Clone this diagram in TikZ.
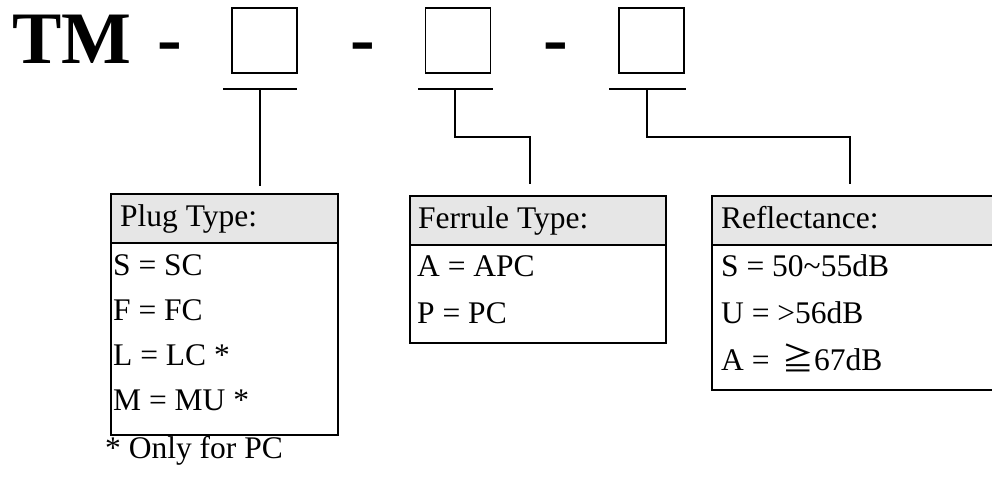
\documentclass[tikz,border=0pt]{standalone}
\usepackage{fontspec}
\setmainfont{Liberation Serif}
\newfontfamily\cjk{Noto Sans CJK JP}
\usetikzlibrary{calc}
\definecolor{headgray}{HTML}{E6E6E6}
\tikzset{
  keybox/.style = {draw, line width=1.3pt, minimum size=65pt, inner sep=0pt},
  wire/.style = {line width=1.3pt},
  frame/.style = {line width=1.7pt},
  entry/.style = {anchor=base west, inner sep=0pt, font=\fontsize{31.5}{36}\selectfont},
  bigentry/.style = {anchor=base west, inner sep=0pt, font=\fontsize{74}{80}\selectfont\bfseries}
}

\begin{document}
\begin{tikzpicture}[x=1pt,y=-1pt]
  \useasboundingbox (0,0) rectangle (992,483);
  \clip (0,0) rectangle (992,483);
  % part number
  \node[bigentry] (tm) at (12,63) {TM};
  \foreach \x/\n in {157/d1,350/d2,543/d3}
    \node[bigentry] (\n) at (\x,63) {-};
  \node[keybox] (sq1) at (264.5,40.5) {};
  \node[keybox] (sq2) at (458,40.5) {};
  \node[keybox] (sq3) at (651.5,40.5) {};
  % underlines
  \draw[wire] (223,89) -- (297,89);
  \draw[wire] (418,89) -- (493,89);
  \draw[wire] (609,89) -- (686,89);
  % connectors
  \coordinate (u1) at (260,89);
  \coordinate (u2) at (455,89);
  \coordinate (u3) at (647,89);
  \coordinate (plugtop) at (260,186);
  \coordinate (ferrtop) at (530,184);
  \coordinate (refltop) at (850,184);
  \draw[wire] (u1) -- (plugtop);
  \draw[wire] (u2) -- ++(0,48) -| (ferrtop);
  \draw[wire] (u3) -- ++(0,48) -| (refltop);
  % plug type
  \fill[headgray] (111,194) rectangle (338,243);
  \draw[frame] (111,243) -- (338,243);
  \draw[frame] (111,194) rectangle (338,435);
  \node[entry] (plughead) at (120,226) {Plug Type:};
  \foreach \t [count=\i] in {S = SC, F = FC, L = LC *, M = MU *}
    \node[entry] (plug\i) at (113,{230+45*\i}) {\t};
  \node[entry] (note) at (105,458) {* Only for PC};
  % ferrule type
  \fill[headgray] (410,196) rectangle (666,245);
  \draw[frame] (410,245) -- (666,245);
  \draw[frame] (410,196) rectangle (666,343);
  \node[entry] (ferrhead) at (418,228) {Ferrule Type:};
  \foreach \t [count=\i] in {A = APC, P = PC}
    \node[entry] (ferr\i) at (417,{229+47*\i}) {\t};
  % reflectance
  \fill[headgray] (712,196) rectangle (1000,245);
  \draw[frame] (712,245) -- (1000,245);
  \draw[frame] (712,196) rectangle (1000,390);
  \node[entry] (reflhead) at (721,228) {Reflectance:};
  \node[entry] (refl1) at (721,276) {S = 50\textasciitilde55dB};
  \node[entry] (refl2) at (721,323) {U = >56dB};
  \node[entry] (refl3) at (721,370) {A = \,{\cjk ≧}67dB};
\end{tikzpicture}
\end{document}
